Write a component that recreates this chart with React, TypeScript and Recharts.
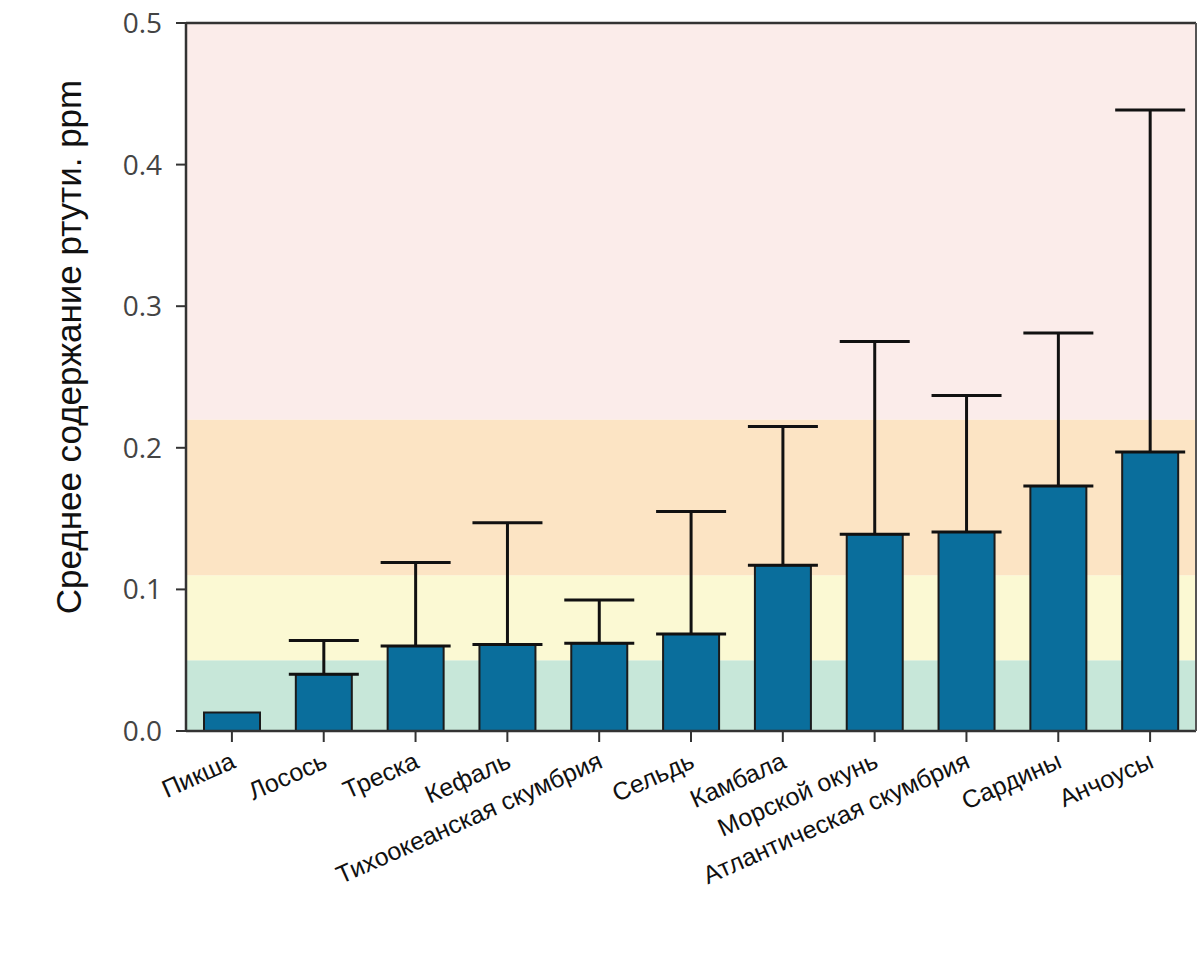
import React from 'react';
import { ComposedChart, Bar, XAxis, YAxis, ErrorBar, ReferenceArea, ReferenceLine } from 'recharts';

const categories = ['Пикша', 'Лосось', 'Треска', 'Кефаль', 'Тихоокеанская скумбрия', 'Сельдь', 'Камбала', 'Морской окунь', 'Атлантическая скумбрия', 'Сардины', 'Анчоусы'];
const means = [0.013, 0.04, 0.06, 0.061, 0.062, 0.0685, 0.117, 0.139, 0.1405, 0.173, 0.197];
const upper: (number | null)[] = [null, 0.064, 0.119, 0.147, 0.0925, 0.155, 0.215, 0.275, 0.237, 0.281, 0.4385];
const yTicks = [0, 0.1, 0.2, 0.3, 0.4, 0.5];
const bands = [
  { from: 0, to: 0.05, color: '#c7e7d9' },
  { from: 0.05, to: 0.11, color: '#fbf9d3' },
  { from: 0.11, to: 0.22, color: '#fce4c4' },
  { from: 0.22, to: 0.5, color: '#fbecea' },
];
const yLabel = 'Среднее содержание ртути. ppm';

const data = categories.map((name, i) => ({
  name,
  mean: means[i],
  err: upper[i] == null ? null : [0, Math.max(0, (upper[i] as number) - means[i])],
}));

const XTick = (props: any) => {
  const { x, y, payload } = props;
  const tx = x + 5;
  const ty = y + 23;
  return (
    <text x={tx} y={ty} textAnchor="end" fontFamily="'Liberation Sans', Arial, sans-serif" fontSize={25} fill="#111"
      transform={`rotate(-24 ${tx} ${ty})`}>
      {payload.value}
    </text>
  );
};

const YLabel = (props: any) => {
  const vb = props.viewBox || {};
  const cx = 68;
  const cy = (vb.y || 0) + (vb.height || 0) / 2 - 30;
  return (
    <text x={cx} y={cy} textAnchor="middle" dominantBaseline="central" fontFamily="'Liberation Sans', Arial, sans-serif" fontSize={35} fill="#111"
      transform={`rotate(-90 ${cx} ${cy})`}>
      {yLabel}
    </text>
  );
};

export default function App() {
  return (
    <div style={{ position: 'absolute', left: 0, top: 0, width: 1200, height: 975, background: '#fff' }}>
      <ComposedChart width={1200} height={975} data={data} margin={{ top: 23, right: 0, left: 0, bottom: 0 }} barCategoryGap={0}>
        {bands.map((b) => (
          <ReferenceArea key={b.from} y1={b.from} y2={b.to} fill={b.color} fillOpacity={1} stroke="none" ifOverflow="extendDomain" />
        ))}
        <XAxis dataKey="name" interval={0} height={244} tick={<XTick />} tickSize={11} tickLine={{ stroke: '#333', strokeWidth: 2 }}
          axisLine={{ stroke: '#333', strokeWidth: 2.5 }} />
        <YAxis domain={[0, 0.5]} ticks={yTicks} width={186} tickSize={10} tickMargin={14}
          tickFormatter={(v: number) => v.toFixed(1)}
          tick={{ fontSize: 28, fill: '#444', fontFamily: "'Open Sans', sans-serif" }}
          tickLine={{ stroke: '#333', strokeWidth: 2 }} axisLine={{ stroke: '#333', strokeWidth: 2.5 }}
          label={<YLabel />} />
        <YAxis yAxisId="r" orientation="right" width={4} domain={[0, 0.5]} tick={false} tickLine={false}
          axisLine={{ stroke: '#555', strokeWidth: 2 }} />
        <ReferenceLine y={0.5} stroke="#333" strokeWidth={2.5} ifOverflow="extendDomain" />
        <Bar dataKey="mean" barSize={56} fill="#0a6e9c" stroke="#1b1b1b" strokeWidth={2} isAnimationActive={false}>
          <ErrorBar dataKey="err" width={35} stroke="#111" strokeWidth={3} direction="y" />
        </Bar>
      </ComposedChart>
    </div>
  );
}
